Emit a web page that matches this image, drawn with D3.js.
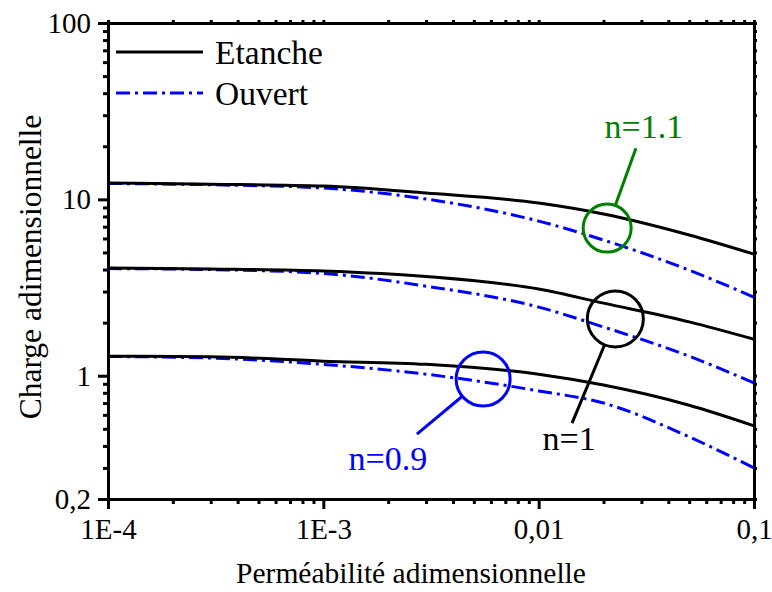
<!DOCTYPE html>
<html>
<head>
<meta charset="utf-8">
<script src="https://cdn.jsdelivr.net/npm/d3@7"></script>
<style>
  body { margin: 0; background: #fff; }
</style>
</head>
<body>
<div id="canvas"></div>
<script>
// values
const xVals = [1e-4, 3e-4, 1e-3, 3e-3, 0.01, 0.02, 0.05, 0.1]
const etanche09 = [1.29, 1.28, 1.21, 1.16, 1.02, 0.885, 0.68, 0.52]
const ouvert09 = [1.285, 1.26, 1.16, 1.02, 0.82, 0.70, 0.45, 0.30]
const etanche10 = [4.08, 4.03, 3.92, 3.65, 3.10, 2.58, 2.02, 1.61]
const ouvert10 = [4.05, 4.00, 3.80, 3.22, 2.45, 1.89, 1.29, 0.91]
const etanche11 = [12.37, 12.2, 11.89, 10.86, 9.53, 8.26, 6.28, 4.89]
const ouvert11 = [12.3, 12.1, 11.59, 10.04, 7.53, 5.88, 3.97, 2.79]

const xTicks = [1e-4, 1e-3, 1e-2, 1e-1]
const xTickLabels = ['1E-4', '1E-3', '0,01', '0,1']
const yTicks = [0.2, 1, 10, 100]
const yTickLabels = ['0,2', '1', '10', '100']

const legendLabels = ['Etanche', 'Ouvert']

// annotation: label, circle centre (data), leader end (data), colour
const annLabels = ['n=1.1', 'n=1', 'n=0.9']
const annCircle = [[0.0208, 6.87], [0.0227, 2.10], [0.00552, 0.958]]
const annEnd = [[0.0283, 19.5], [0.01429, 0.539], [0.00272, 0.467]]
const annColors = ['#008000', '#000000', '#0000ff']

const FONT = 'Liberation Serif'

var margin = {top: 23, right: 18, bottom: 93, left: 108},
  width = 772 - margin.left - margin.right,
  height = 592 - margin.top - margin.bottom

var svg = d3.select('#canvas')
  .append('svg')
  .attr('width', 772)
  .attr('height', 592)
  .append('g')
  .attr('transform', 'translate(' + margin.left + ',' + margin.top + ')')

const x = d3.scaleLog().domain([1e-4, 0.1]).range([0, width])
const y = d3.scaleLog().domain([0.2, 100]).range([height, 0])

// minor ticks
const xMinor = []
;[1e-4, 1e-3, 1e-2].forEach(d => { for (let k = 2; k <= 9; k++) xMinor.push(d * k) })
const yMinor = []
;[0.1, 1, 10].forEach(d => { for (let k = 2; k <= 9; k++) { const v = d * k; if (v > 0.2 && v < 100) yMinor.push(v) } })

function styleAxis (g) {
  g.attr('font-family', FONT)
  g.selectAll('path').attr('stroke', '#000').attr('stroke-width', 3)
  g.selectAll('line').attr('stroke', '#000').attr('stroke-width', 3)
  g.selectAll('text').attr('fill', '#000').attr('font-size', '29px')
    .attr('font-family', FONT)
}

// bottom
svg.append('g').attr('transform', 'translate(0,' + height + ')')
  .call(d3.axisBottom(x).tickValues(xMinor).tickSize(5).tickFormat('').tickSizeOuter(0))
  .call(styleAxis)
svg.append('g').attr('transform', 'translate(0,' + height + ')')
  .call(d3.axisBottom(x).tickValues(xTicks).tickSize(10).tickPadding(9).tickSizeOuter(0)
    .tickFormat((d, i) => xTickLabels[i]))
  .call(styleAxis)
// top
svg.append('g')
  .call(d3.axisTop(x).tickValues(xMinor.concat(xTicks)).tickSize(3).tickFormat('').tickSizeOuter(0))
  .call(styleAxis)
// left
svg.append('g')
  .call(d3.axisLeft(y).tickValues(yMinor).tickSize(5).tickFormat('').tickSizeOuter(0))
  .call(styleAxis)
svg.append('g')
  .call(d3.axisLeft(y).tickValues(yTicks).tickSize(10).tickPadding(7).tickSizeOuter(0)
    .tickFormat((d, i) => yTickLabels[i]))
  .call(styleAxis)
// right
svg.append('g').attr('transform', 'translate(' + width + ',0)')
  .call(d3.axisRight(y).tickValues(yMinor.concat(yTicks)).tickSize(3).tickFormat('').tickSizeOuter(0))
  .call(styleAxis)

// axis titles
svg.append('text')
  .text('Perméabilité adimensionnelle')
  .attr('x', width / 2 - 20)
  .attr('y', height + 84)
  .attr('text-anchor', 'middle')
  .attr('font-family', FONT)
  .attr('font-size', '29.5px')

svg.append('text')
  .text('Charge adimensionnelle')
  .attr('transform', 'translate(' + (41 - margin.left) + ',' + (height / 2 + 6) + ') rotate(-90)')
  .attr('text-anchor', 'middle')
  .attr('font-family', FONT)
  .attr('font-size', '31.5px')

// curves
const line = d3.line()
  .x(d => x(d[0]))
  .y(d => y(d[1]))
  .curve(d3.curveMonotoneX)

const series = [
  {vals: ouvert11, type: 1}, {vals: etanche11, type: 0},
  {vals: ouvert10, type: 1}, {vals: etanche10, type: 0},
  {vals: ouvert09, type: 1}, {vals: etanche09, type: 0}
]
const dashes = ['none', '14,5,3,5']
const colors = ['#000000', '#0000ff']

series.forEach(s => {
  svg.append('path')
    .datum(xVals.map((xv, i) => [xv, s.vals[i]]))
    .attr('d', line)
    .attr('fill', 'none')
    .attr('stroke', colors[s.type])
    .attr('stroke-width', 3)
    .attr('stroke-dasharray', dashes[s.type])
})

// legend
legendLabels.forEach((lab, i) => {
  const ly = 29 + i * 41
  svg.append('line')
    .attr('x1', 8).attr('x2', 95)
    .attr('y1', ly).attr('y2', ly)
    .attr('stroke', colors[i])
    .attr('stroke-width', 3)
    .attr('stroke-dasharray', dashes[i])
  svg.append('text')
    .text(lab)
    .attr('x', 107)
    .attr('y', ly + 12)
    .attr('font-family', FONT)
    .attr('font-size', '33.5px')
})

// annotations
const annOffset = [[8, -10], [-3, 27], [-29, 36]]
const annR = [24, 28, 27]
annLabels.forEach((lab, i) => {
  const cx = x(annCircle[i][0]), cy = y(annCircle[i][1])
  const ex = x(annEnd[i][0]), ey = y(annEnd[i][1])
  const len = Math.hypot(ex - cx, ey - cy)
  const sx = cx + (ex - cx) / len * annR[i]
  const sy = cy + (ey - cy) / len * annR[i]
  svg.append('circle')
    .attr('cx', cx).attr('cy', cy).attr('r', annR[i])
    .attr('fill', 'none')
    .attr('stroke', annColors[i])
    .attr('stroke-width', 3)
  svg.append('line')
    .attr('x1', sx).attr('y1', sy)
    .attr('x2', ex).attr('y2', ey)
    .attr('stroke', annColors[i])
    .attr('stroke-width', 3)
  svg.append('text')
    .text(lab)
    .attr('x', ex + annOffset[i][0])
    .attr('y', ey + annOffset[i][1])
    .attr('text-anchor', 'middle')
    .attr('fill', annColors[i])
    .attr('font-family', FONT)
    .attr('font-size', '34px')
})
</script>
</body>
</html>
